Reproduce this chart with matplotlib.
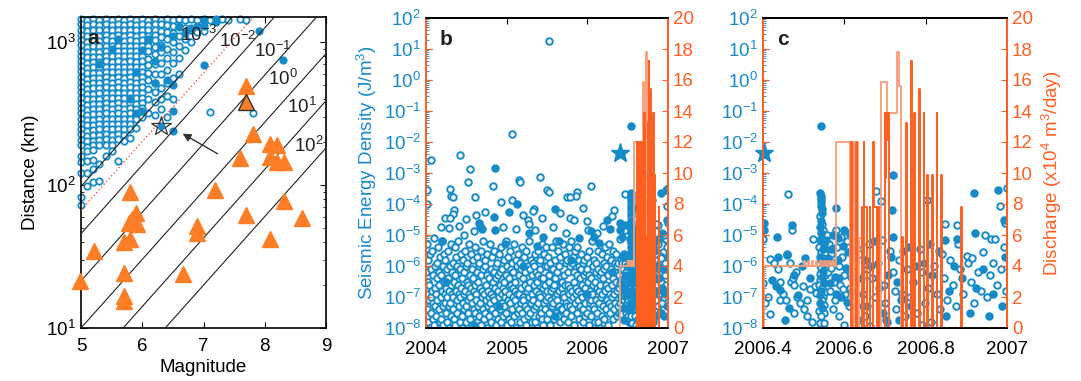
import numpy as np
import matplotlib
matplotlib.use('Agg')
import matplotlib.pyplot as plt
from matplotlib.ticker import LogLocator, NullFormatter

plt.rcParams['font.family'] = ['Liberation Sans', 'DejaVu Sans']
plt.rcParams['mathtext.fontset'] = 'custom'
plt.rcParams['mathtext.rm'] = 'Liberation Sans'
plt.rcParams['mathtext.it'] = 'Liberation Sans:italic'
plt.rcParams['mathtext.bf'] = 'Liberation Sans:bold'
plt.rcParams['font.size'] = 13

BLUE = '#168bca'
ORANGE = '#ff5f1f'
LIGHT = '#f99c78'
TRI = '#fd7e26'
TS = 13.5   # tick label size
LS = 13.5   # axis label size

# ---------------- panel a data ----------------
a_col_mag = [5.0, 5.1, 5.2, 5.3, 5.4, 5.5, 5.6, 5.7, 5.8, 5.9, 6.0, 6.1, 6.2, 6.3,
             6.4, 6.5, 6.6, 6.7, 6.8, 6.9, 7.0, 7.1, 7.3, 7.4, 7.6, 7.7, 7.8]
a_col_dist = [
    [1450, 1330, 1220, 1120, 1030, 950, 870, 800, 740, 680, 625, 575, 530, 485, 445, 410, 375, 345, 318, 292, 268, 246, 226, 208, 192, 160, 145, 122, 82, 73],
    [1440, 1320, 1200, 1100, 1010, 930, 855, 785, 720, 660, 605, 555, 510, 470, 432, 398, 366, 336, 310, 285, 262, 240, 220, 203, 186, 172, 148, 122, 98],
    [1450, 1330, 1210, 1110, 1020, 940, 860, 790, 725, 665, 610, 560, 515, 475, 437, 402, 370, 340, 312, 287, 264, 243, 223, 205, 190, 175, 150, 130, 105],
    [1440, 1320, 1210, 1110, 1020, 935, 860, 790, 725, 665, 612, 562, 517, 476, 438, 403, 371, 341, 314, 289, 266, 245, 225, 207, 190, 140, 107],
    [1450, 1330, 1220, 1120, 1030, 945, 870, 800, 735, 675, 620, 570, 524, 482, 443, 408, 375, 345, 317, 292, 268, 247, 227, 209, 192, 160],
    [1440, 1320, 1210, 1110, 1020, 940, 865, 795, 730, 670, 615, 565, 520, 478, 440, 405, 372, 342, 315, 290, 267, 245, 225, 207, 190, 172],
    [1450, 1330, 1220, 1120, 1030, 945, 870, 800, 735, 675, 620, 570, 524, 482, 443, 408, 375, 345, 317, 292, 268, 247, 227, 209, 147],
    [1440, 1320, 1210, 1110, 1020, 940, 865, 795, 730, 670, 615, 565, 520, 478, 440, 405, 372, 342, 315, 290, 267, 245, 225, 205],
    [1450, 1330, 1220, 1120, 1030, 945, 870, 800, 735, 675, 620, 570, 524, 482, 443, 408, 375, 345, 317, 292, 268, 247, 212],
    [1440, 1320, 1210, 1110, 1020, 940, 865, 795, 730, 670, 615, 565, 520, 478, 440, 405, 372, 342, 315, 290, 250],
    [1450, 1330, 1220, 1120, 1030, 945, 870, 800, 735, 675, 620, 570, 524, 482, 443, 408, 375, 345, 300],
    [1440, 1320, 1210, 1110, 1020, 940, 865, 760, 690, 610, 540, 470, 400, 320],
    [1450, 1330, 1220, 1120, 1030, 920, 820, 700, 600, 520, 450, 380, 310],
    [1440, 1330, 1200, 1080, 960, 850, 720, 600, 480, 400, 340],
    [1450, 1320, 1180, 1050, 900, 780, 640, 520, 420, 300],
    [1440, 1300, 1150, 1000, 860, 720, 560, 400],
    [1450, 1280, 1100, 940, 780, 600],
    [1440, 1250, 1050, 880],
    [1450, 1220, 1000],
    [1430, 1180],
    [1450, 1200],
    [1440, 325],
    [1450],
    [1420],
    [1450],
    [1440],
    [322],
]
a_fill_mag = [6.3, 6.5, 7.0, 8.3, 7.9, 6.2, 6.2, 6.5, 6.4, 6.0, 5.9, 6.3, 6.1, 6.6, 6.5,
              6.8, 7.0, 7.2, 7.0, 7.2, 6.0, 6.5, 5.9, 6.9, 5.6, 5.5, 5.3, 5.8, 6.7]
a_fill_dist = [260, 240, 690, 745, 1200, 515, 740, 500, 540, 880, 620, 920, 1050, 1300, 1100,
               1250, 1400, 1380, 1300, 1450, 330, 330, 320, 1300, 1050, 900, 700, 400, 1150]
tri_mag = [7.7, 7.8, 8.09, 8.2, 7.59, 8.08, 8.2, 8.32, 5.8, 7.19, 8.32, 5.9, 5.83, 5.78, 5.91,
           7.7, 8.6, 6.89, 6.9, 5.8, 5.7, 8.09, 5.21, 5.7, 6.67, 4.99, 5.7, 5.7]
tri_dist = [490, 228, 194, 190, 155, 158, 144, 146, 89, 92, 77, 64, 57.5, 54, 53,
            62, 59, 52, 46, 42, 40, 41.7, 34.6, 24.3, 23.7, 21.2, 16.7, 15.4]
tri_edge_mag, tri_edge_dist = [7.7], [380]
star_a_mag, star_a_dist = 6.3, 260
energy_levels = [-3, -2, -1, 0, 1, 2]
energy_labels = ['10$^{-3}$', '10$^{-2}$', '10$^{-1}$', '10$^{0}$', '10$^{1}$', '10$^{2}$']
label_mag = [6.62, 7.25, 7.82, 8.06, 8.36, 8.47]
label_dist = [1115, 1024, 870, 550, 350, 188]
threshold_level = -2.5

# ---------------- panel b data (2004 - 2006.4), days since 2004-01-01 ----------------
b_day = [
    1, 3, 4, 6, 8, 10, 11, 13, 15, 17, 19, 21,
    23, 24, 26, 28, 30, 32, 33, 35, 37, 39, 41, 43,
    45, 46, 48, 50, 52, 54, 55, 57, 59, 61, 62, 64,
    66, 68, 70, 71, 73, 75, 77, 79, 80, 82, 84, 86,
    88, 89, 91, 93, 95, 97, 98, 100, 102, 104, 106, 108,
    110, 111, 113, 115, 117, 119, 120, 122, 124, 126, 128, 130,
    132, 133, 135, 137, 139, 141, 142, 144, 146, 148, 150, 152,
    154, 155, 157, 159, 161, 163, 164, 166, 168, 170, 172, 174,
    176, 177, 179, 181, 183, 185, 186, 188, 190, 192, 194, 196,
    198, 199, 201, 203, 205, 207, 208, 210, 212, 214, 216, 218,
    220, 221, 223, 225, 227, 229, 230, 232, 234, 236, 238, 240,
    242, 243, 245, 247, 249, 251, 252, 254, 256, 258, 260, 262,
    264, 265, 267, 269, 271, 273, 274, 276, 278, 280, 282, 284,
    286, 287, 289, 291, 293, 295, 296, 298, 300, 302, 304, 306,
    308, 309, 311, 313, 315, 317, 318, 320, 322, 324, 326, 328,
    330, 331, 333, 335, 337, 339, 340, 342, 344, 346, 348, 350,
    352, 353, 355, 357, 359, 361, 362, 364, 366, 368, 370, 372,
    374, 375, 377, 379, 381, 383, 384, 386, 388, 390, 392, 394,
    396, 397, 399, 401, 403, 405, 406, 408, 410, 412, 414, 416,
    418, 419, 421, 423, 425, 427, 428, 430, 432, 434, 436, 438,
    440, 441, 443, 445, 447, 449, 450, 452, 454, 456, 458, 460,
    462, 463, 465, 467, 469, 471, 472, 474, 476, 478, 480, 482,
    484, 485, 487, 489, 491, 493, 494, 496, 498, 500, 502, 504,
    506, 507, 509, 511, 513, 515, 516, 518, 520, 522, 524, 526,
    528, 529, 531, 533, 535, 537, 538, 540, 542, 544, 546, 548,
    550, 551, 553, 555, 557, 559, 560, 562, 564, 566, 568, 570,
    572, 573, 575, 577, 579, 581, 582, 584, 586, 588, 590, 592,
    594, 595, 597, 599, 601, 603, 604, 606, 608, 610, 612, 614,
    616, 617, 619, 621, 623, 625, 626, 628, 630, 632, 634, 636,
    638, 639, 641, 643, 645, 647, 648, 650, 652, 654, 656, 658,
    660, 661, 663, 665, 667, 669, 670, 672, 674, 676, 678, 680,
    682, 683, 685, 687, 689, 691, 692, 694, 696, 698, 700, 702,
    704, 705, 707, 709, 711, 713, 714, 716, 718, 720, 722, 724,
    726, 727, 729, 731, 733, 735, 736, 738, 740, 742, 744, 746,
    748, 749, 751, 753, 755, 757, 758, 760, 762, 764, 766, 768,
    770, 771, 773, 775, 777, 779, 780, 782, 784, 786, 788, 790,
    792, 793, 795, 797, 799, 801, 802, 804, 806, 808, 810, 812,
    814, 815, 817, 819, 821, 823, 824, 826, 828, 830, 832, 834,
    836, 837, 839, 841, 843, 845, 846, 848, 850, 852, 854, 856,
    858, 859, 861, 863, 865, 867, 868, 870, 872, 874, 876,
]
b_loge = [
    -6.2, -7.4, -5.3, -6.9, -7.8, -6.5, -5.8, -7.1, -6.6, -8.0, -5.6, -7.0,
    -7.5, -6.1, -6.8, -5.5, -7.7, -7.2, -6.3, -5.1, -7.9, -6.7, -7.3, -6.0,
    -6.9, -7.6, -5.9, -6.4, -7.1, -8.1, -5.4, -6.6, -7.4, -6.2, -7.8, -5.7,
    -7.0, -6.3, -7.7, -5.2, -6.8, -7.3, -6.0, -7.9, -6.5, -5.6, -7.2, -6.9,
    -5.8, -7.5, -6.7, -7.0, -6.1, -7.8, -5.5, -6.4, -7.3, -6.8, -8.0, -6.0,
    -7.2, -6.6, -5.3, -7.6, -6.9, -6.2, -7.4, -5.9, -7.0, -6.5, -7.7, -5.4,
    -6.3, -7.9, -6.8, -5.7, -7.1, -6.0, -7.5, -6.6, -5.2, -7.3, -6.9, -7.8,
    -6.1, -7.0, -5.6, -6.7, -7.6, -6.4, -8.0, -5.8, -7.2, -6.9, -6.2, -7.4,
    -5.5, -6.8, -7.3, -6.0, -7.8, -6.5, -5.9, -7.1, -6.6, -7.5, -5.3, -6.9,
    -7.0, -6.3, -7.7, -5.6, -6.7, -7.2, -6.1, -7.9, -5.8, -6.4, -7.4, -6.8,
    -6.6, -7.5, -5.4, -6.9, -7.1, -6.2, -7.8, -5.7, -6.5, -7.3, -6.0, -7.6,
    -5.9, -7.2, -6.7, -7.9, -6.3, -5.5, -7.0, -6.8, -7.4, -6.1, -5.2, -7.7,
    -6.9, -6.0, -7.5, -5.8, -7.1, -6.6, -8.0, -6.3, -5.6, -7.3, -6.8, -7.0,
    -7.6, -6.4, -5.3, -7.2, -6.9, -7.8, -6.1, -5.7, -7.4, -6.5, -7.0, -6.2,
    -5.5, -7.1, -6.7, -7.5, -6.0, -7.9, -6.4, -5.9, -7.3, -6.8, -7.7, -6.3,
    -7.0, -5.6, -6.6, -7.4, -6.2, -7.8, -5.4, -6.9, -7.2, -6.1, -7.6, -6.7,
    -6.5, -7.3, -5.8, -7.0, -6.8, -5.2, -7.5, -6.3, -7.9, -6.0, -7.1, -5.7,
    -7.7, -6.4, -6.9, -5.5, -7.2, -6.6, -7.8, -6.1, -5.9, -7.4, -6.7, -7.0,
    -6.2, -7.6, -5.3, -6.8, -7.1, -6.5, -8.0, -5.8, -7.3, -6.9, -6.0, -7.5,
    -5.6, -6.9, -7.4, -6.3, -7.8, -5.9, -6.7, -7.2, -6.1, -7.5, -5.4, -7.0,
    -7.1, -6.4, -7.7, -5.7, -6.6, -7.3, -6.2, -7.9, -5.5, -6.8, -7.4, -6.0,
    -6.7, -7.6, -5.2, -7.0, -6.5, -6.1, -7.5, -5.8, -7.2, -6.9, -7.8, -6.3,
    -5.9, -7.1, -6.6, -7.4, -6.0, -7.8, -5.6, -6.8, -7.3, -6.2, -8.0, -6.5,
    -7.2, -6.3, -5.5, -7.6, -6.9, -6.1, -7.0, -5.8, -7.5, -6.4, -7.7, -5.3,
    -6.4, -7.9, -6.7, -5.6, -7.2, -6.0, -7.4, -6.6, -5.4, -7.1, -6.8, -7.7,
    -6.0, -7.0, -5.7, -6.5, -7.5, -6.3, -7.9, -5.9, -7.1, -6.8, -6.1, -7.3,
    -5.4, -6.7, -7.2, -6.1, -7.7, -6.6, -5.8, -7.0, -6.4, -7.5, -5.2, -6.9,
    -7.1, -6.2, -7.6, -5.5, -6.8, -7.3, -6.0, -7.8, -5.7, -6.5, -7.4, -6.7,
    -6.5, -7.4, -5.3, -6.9, -7.0, -6.3, -7.7, -5.6, -6.6, -7.2, -5.9, -7.5,
    -5.8, -7.3, -6.6, -7.8, -6.2, -5.4, -6.9, -6.7, -7.3, -6.0, -5.2, -7.6,
    -6.8, -5.9, -7.4, -5.7, -7.0, -6.5, -7.9, -6.2, -5.5, -7.2, -6.7, -6.9,
    -7.5, -6.3, -5.4, -7.1, -6.8, -7.7, -6.0, -5.8, -7.3, -6.4, -6.9, -6.1,
    -5.6, -7.0, -6.6, -7.4, -5.9, -7.8, -6.3, -5.8, -7.2, -6.7, -7.6, -6.2,
    -6.9, -6.1, -7.5, -5.7, -7.0, -6.5, -7.9, -6.3, -5.5, -7.2, -6.8, -7.1,
    -7.6, -6.4, -5.2, -6.9, -6.6, -7.3, -6.0, -5.8, -7.4, -6.5, -7.8, -6.2,
    -5.9, -7.1, -6.7, -7.5, -6.1, -7.8, -5.5, -6.8, -7.2, -6.3, -8.0, -6.6,
    -7.0, -6.2, -5.6, -7.6, -6.9, -6.4, -7.3, -5.9, -7.7, -6.1, -6.8, -5.4,
    -6.6, -7.4, -6.0, -5.7, -7.1, -6.7, -7.9, -6.3, -5.3, -7.2, -6.9, -7.5,
    -6.1, -5.8, -7.3, -6.6, -7.0, -5.5, -7.7, -6.4, -6.9, -7.4, -6.2, -5.9,
    -7.2, -6.5, -5.6, -7.6, -6.8, -6.0, -7.3, -5.9, -6.7, -7.5, -6.3,
]
b_sparse_open_t = [2005.528, 2005.062, 2004.058, 2004.42, 2004.55, 2004.52, 2004.83, 2005.15, 2005.17,
                   2005.41, 2006.04, 2005.87, 2005.86, 2005.50, 2005.52, 2004.01, 2004.01, 2004.30,
                   2004.31, 2004.34, 2004.61, 2005.07, 2005.34, 2005.33, 2005.75, 2005.79, 2005.95,
                   2006.33, 2004.35, 2004.34, 2004.24, 2004.30, 2004.50, 2004.62, 2004.73, 2004.93,
                   2005.20, 2005.27, 2005.28, 2005.35, 2005.44, 2005.57, 2005.66, 2005.79, 2005.84,
                   2005.99, 2006.19, 2004.18, 2004.29, 2004.41, 2004.47, 2004.59, 2006.01, 2005.11,
                   2004.95, 2005.74, 2006.12, 2006.30]
b_sparse_open_e = [1.25, -1.74, -2.57, -2.43, -2.87, -3.30, -3.43, -3.22, -3.30,
                   -3.13, -3.43, -3.60, -3.75, -3.56, -3.60, -3.54, -4.0, -3.50,
                   -3.75, -3.77, -3.77, -3.86, -4.16, -4.24, -3.77, -3.77, -4.13,
                   -4.18, -4.20, -4.33, -4.45, -4.45, -4.47, -4.35, -4.26, -3.95,
                   -4.34, -4.50, -4.63, -4.83, -4.45, -4.74, -4.29, -4.45, -4.50,
                   -4.56, -4.72, -4.74, -4.77, -4.72, -4.99, -4.88, -4.83, -4.8,
                   -4.75, -4.92, -4.95, -4.4]
b_sparse_fill_t = [2004.855, 2005.13, 2005.60, 2004.66, 2004.67, 2004.84, 2004.86, 2005.03, 2005.28,
                   2004.70, 2006.04, 2006.08, 2006.25, 2006.28, 2005.45, 2005.90, 2004.20, 2005.65,
                   2004.98, 2006.15, 2005.38, 2004.25, 2004.9, 2005.2, 2005.6, 2006.0, 2006.3,
                   2004.6, 2005.8]
b_sparse_fill_e = [-2.84, -3.99, -4.16, -4.6, -4.7, -4.43, -4.83, -4.26, -4.93,
                   -4.80, -4.88, -5.08, -4.50, -4.80, -5.05, -5.1, -5.2, -5.2,
                   -5.3, -5.25, -5.35, -6.5, -7.3, -6.0, -7.6, -6.9, -6.2,
                   -7.9, -5.8]

# ---------------- panel c data (2006.4 - 2007), also shown in b ----------------
c_open_t = [
    2006.401, 2006.401, 2006.404, 2006.416, 2006.428, 2006.412, 2006.418, 2006.441, 2006.443, 2006.457,
    2006.462, 2006.460, 2006.466, 2006.469, 2006.473, 2006.477, 2006.477, 2006.472, 2006.484, 2006.490,
    2006.498, 2006.507, 2006.509, 2006.515, 2006.523, 2006.527, 2006.531, 2006.437, 2006.450, 2006.480,
    2006.500, 2006.520,
    2006.541, 2006.545, 2006.547, 2006.549, 2006.545, 2006.538, 2006.543, 2006.553, 2006.547, 2006.537,
    2006.542, 2006.539, 2006.553, 2006.541, 2006.537, 2006.546, 2006.552, 2006.548, 2006.544, 2006.551,
    2006.538, 2006.549, 2006.543, 2006.540, 2006.550,
    2006.558, 2006.562, 2006.566, 2006.570, 2006.560, 2006.574, 2006.564, 2006.578, 2006.582, 2006.586,
    2006.590, 2006.594, 2006.598, 2006.602, 2006.606, 2006.610, 2006.614, 2006.618, 2006.580, 2006.572,
    2006.588, 2006.600, 2006.612, 2006.592, 2006.568, 2006.596,
    2006.679, 2006.690, 2006.692, 2006.625, 2006.632, 2006.638, 2006.645, 2006.652, 2006.660, 2006.668,
    2006.675, 2006.683, 2006.698, 2006.705, 2006.712, 2006.720, 2006.728, 2006.735, 2006.742, 2006.748,
    2006.630, 2006.655, 2006.700, 2006.725, 2006.663, 2006.640,
    2006.803, 2007.000, 2006.982, 2006.785, 2006.878, 2006.942, 2006.901, 2006.960, 2006.970, 2006.848,
    2006.755, 2006.762, 2006.770, 2006.778, 2006.790, 2006.798, 2006.806, 2006.812, 2006.820, 2006.828,
    2006.836, 2006.845, 2006.852, 2006.860, 2006.868, 2006.875, 2006.884, 2006.892, 2006.905, 2006.912,
    2006.920, 2006.928, 2006.935, 2006.950, 2006.958, 2006.966, 2006.975, 2006.985, 2006.992, 2006.998,
    2006.915, 2006.945, 2006.880, 2006.996, 2006.790, 2006.840,
]
c_open_e = [
    -5.13, -6.55, -7.2, -5.77, -5.9, -7.0, -7.55, -7.1, -6.5, -7.1,
    -3.67, -5.6, -5.9, -6.5, -6.4, -6.6, -7.5, -4.83, -7.0, -7.2,
    -6.65, -7.6, -7.1, -6.75, -5.13, -6.65, -6.87, -6.1, -6.9, -6.2,
    -7.4, -7.8,
    -4.4, -4.65, -4.85, -5.05, -5.25, -5.4, -5.55, -5.6, -5.75, -5.95,
    -6.05, -6.25, -6.3, -6.45, -6.6, -6.7, -6.85, -7.0, -7.1, -7.25,
    -7.45, -7.5, -7.6, -7.85, -7.83,
    -5.0, -5.3, -5.6, -5.9, -6.2, -6.5, -6.8, -7.1, -5.4, -6.0,
    -6.6, -5.7, -6.3, -6.9, -5.2, -6.1, -6.7, -5.5, -4.85, -7.4,
    -7.6, -7.9, -7.3, -5.05, -6.05, -6.75,
    -3.57, -3.91, -5.17, -6.2, -7.3, -5.6, -6.9, -7.6, -5.3, -6.4,
    -7.0, -5.9, -6.6, -7.8, -5.5, -6.2, -7.4, -5.8, -6.9, -7.6,
    -7.7, -6.1, -7.2, -6.8, -7.95, -7.95,
    -3.86, -3.48, -4.08, -5.45, -4.67, -5.55, -5.69, -5.13, -5.13, -4.63,
    -6.1, -7.0, -6.5, -7.5, -6.2, -7.2, -6.7, -7.8, -6.0, -6.9,
    -7.4, -6.4, -7.1, -5.8, -6.6, -7.3, -6.1, -6.9, -5.9, -6.5,
    -7.2, -6.2, -6.8, -7.0, -6.3, -5.9, -6.6, -6.1, -5.4, -6.8,
    -5.75, -5.0, -5.3, -4.6, -7.9, -5.6,
]
c_fill_t = [
    2006.403, 2006.403, 2006.435, 2006.437, 2006.458, 2006.441, 2006.453, 2006.471, 2006.476, 2006.503,
    2006.485, 2006.421, 2006.431, 2006.465, 2006.495, 2006.515,
    2006.542, 2006.541, 2006.542, 2006.542, 2006.543, 2006.542, 2006.544, 2006.546, 2006.543, 2006.541,
    2006.543, 2006.540, 2006.551, 2006.548, 2006.540, 2006.544, 2006.551, 2006.548, 2006.545, 2006.550,
    2006.543, 2006.539, 2006.541, 2006.546,
    2006.579, 2006.600, 2006.556, 2006.560, 2006.568, 2006.576, 2006.584, 2006.588, 2006.596, 2006.604,
    2006.608, 2006.616, 2006.564, 2006.572, 2006.592, 2006.580, 2006.612, 2006.620, 2006.606, 2006.585,
    2006.720, 2006.716, 2006.720, 2006.628, 2006.641, 2006.650, 2006.665, 2006.672, 2006.686, 2006.694,
    2006.708, 2006.715, 2006.730, 2006.740, 2006.745, 2006.656, 2006.702, 2006.735,
    2006.979, 2006.993, 2006.918, 2006.878, 2006.922, 2006.848, 2006.760, 2006.775, 2006.795, 2006.815,
    2006.832, 2006.858, 2006.870, 2006.890, 2006.908, 2006.925, 2006.940, 2006.955, 2006.965, 2006.988,
    2006.995, 2006.850, 2006.810, 2006.765,
]
c_fill_e = [
    -4.61, -4.83, -5.06, -5.7, -5.63, -6.76, -7.73, -4.67, -6.28, -5.74,
    -6.92, -6.44, -6.66, -7.35, -6.0, -6.4,
    -1.49, -3.65, -3.75, -3.85, -3.95, -4.05, -4.15, -4.3, -4.55, -4.75,
    -4.95, -5.15, -5.3, -5.45, -5.7, -5.85, -5.95, -6.15, -6.35, -6.55,
    -6.8, -6.95, -7.2, -7.35,
    -4.13, -4.83, -5.15, -5.75, -5.45, -6.35, -5.8, -6.4, -5.35, -6.05,
    -5.55, -6.35, -6.55, -5.0, -7.0, -6.9, -4.95, -6.8, -7.15, -5.1,
    -3.08, -4.18, -5.06, -5.4, -6.4, -5.8, -6.0, -5.2, -6.7, -7.5,
    -6.3, -5.7, -6.5, -7.1, -5.5, -7.3, -7.75, -7.75,
    -3.54, -4.50, -3.65, -5.13, -4.94, -5.15, -5.4, -6.0, -5.9, -6.3,
    -5.5, -6.8, -6.0, -6.4, -7.5, -6.7, -6.1, -7.6, -6.9, -7.3,
    -5.7, -7.6, -5.3, -7.3,
]
star_t, star_loge = 2006.402, -2.37

# discharge (x10^4 m^3/day), step values holding until next time
light_t = [2006.400, 2006.402, 2006.500, 2006.504, 2006.510, 2006.514, 2006.520, 2006.524, 2006.530,
           2006.534, 2006.540, 2006.544, 2006.550, 2006.554, 2006.560, 2006.564, 2006.570, 2006.574,
           2006.580, 2006.614, 2006.621, 2006.623, 2006.631, 2006.633, 2006.637, 2006.646, 2006.689,
           2006.704, 2006.730, 2006.735, 2006.739, 2007.000]
light_q = [0, 4.0, 4.3, 4.0, 4.3, 4.0, 4.3, 4.0, 4.3,
           4.0, 4.3, 4.0, 4.3, 4.0, 4.3, 4.0, 4.3, 4.0,
           12.0, 1.8, 12.0, 0, 12.0, 0, 5.8, 0, 15.9,
           13.9, 17.8, 15.6, 0, 0]
dark_t = [2006.612, 2006.617, 2006.619, 2006.628, 2006.630, 2006.643, 2006.647, 2006.648, 2006.649,
          2006.655, 2006.662, 2006.664, 2006.671, 2006.673, 2006.680, 2006.683, 2006.686, 2006.700,
          2006.701, 2006.702, 2006.703, 2006.704, 2006.705, 2006.706, 2006.707, 2006.708, 2006.710,
          2006.711, 2006.743, 2006.745, 2006.752, 2006.754, 2006.764, 2006.766, 2006.772, 2006.774,
          2006.783, 2006.785, 2006.795, 2006.797, 2006.803, 2006.805, 2006.816, 2006.818, 2006.827,
          2006.829, 2006.838, 2006.840, 2006.887, 2006.889]
dark_q = [0, 12.0, 0, 12.0, 0, 7.8, 0, 12.0, 7.8,
          0, 7.8, 0, 12.0, 7.8, 0, 7.8, 0, 13.9,
          9.7, 13.2, 12.2, 13.9, 12.4, 13.6, 12.1, 13.9, 12.6,
          0, 5.9, 0, 13.2, 0, 17.2, 0, 13.9, 0,
          15.4, 0, 13.9, 0, 9.9, 0, 9.9, 0, 13.9,
          0, 9.9, 0, 7.8, 0]

W, H = 1081, 381
fig = plt.figure(figsize=(W / 100, H / 100), dpi=100)


def box(l, r, t=17, b=328):
    return [l / W, (H - b) / H, (r - l) / W, (b - t) / H]


def log_ticks(ax):
    ax.yaxis.set_major_locator(LogLocator(base=10, numticks=20))
    ax.yaxis.set_minor_locator(LogLocator(base=10, subs=np.arange(2, 10) * 1.0, numticks=200))
    ax.yaxis.set_minor_formatter(NullFormatter())


# ---------------- panel a ----------------
ax = fig.add_axes(box(81, 326))
mags = np.concatenate([[m] * len(d) for m, d in zip(a_col_mag, a_col_dist)])
dists = np.concatenate(a_col_dist)
ax.plot(mags, dists, 'o', ms=4.6, mfc='white', mec=BLUE, mew=1.3, zorder=2, clip_on=False)
ax.plot(a_fill_mag, a_fill_dist, 'o', ms=4.6, mfc=BLUE, mec=BLUE, mew=1.3, zorder=3, clip_on=False)
mm = np.array([4.8, 9.2])
for lev in energy_levels:
    ax.plot(mm, 10 ** (0.48 * mm - 0.33 * lev - 1.4), color='#222222', lw=0.8, zorder=4)
ax.plot(mm, 10 ** (0.48 * mm - 0.33 * threshold_level - 1.4), color='#ff3030', lw=0.9,
        ls=(0, (1, 2)), zorder=4)
ax.plot(tri_mag, tri_dist, '^', ms=11, mfc=TRI, mec=TRI, zorder=5, clip_on=False)
ax.plot(tri_edge_mag, tri_edge_dist, '^', ms=11, mfc=TRI, mec='#333333', mew=1.0, zorder=5)
ax.plot(star_a_mag, star_a_dist, '*', ms=15, mfc='none', mec='#333333', mew=0.9, zorder=6)
ax.annotate('', xy=(6.62, 234), xytext=(7.27, 162),
            arrowprops=dict(arrowstyle='-|>', color='#333333', lw=1, mutation_scale=12))
for txt, m, d in zip(energy_labels, label_mag, label_dist):
    ax.text(m, d, txt, fontsize=13.5, color='#222222', ha='left', va='center', zorder=7)
ax.set_yscale('log')
ax.set_xlim(5, 9)
ax.set_ylim(10, 1500)
log_ticks(ax)
ax.set_xticks([5, 6, 7, 8, 9])
ax.tick_params(which='both', direction='in', top=True, right=True, labelsize=TS)
ax.tick_params(axis='x', pad=7)
ax.tick_params(which='major', length=4)
ax.tick_params(which='minor', length=2)
ax.set_xlabel('Magnitude', fontsize=LS, labelpad=3)
ax.set_ylabel('Distance (km)', fontsize=LS, labelpad=5)
ax.text(0.025, 0.913, 'a', transform=ax.transAxes, fontsize=15, fontweight='bold',
        color='#222222', zorder=8)
for s in ax.spines.values():
    s.set_linewidth(1.2)


def energy_panel(l, r, xlim, xticks, xlabels, letter, seis_t, seis_e, fill_t, fill_e, left_label, right_label):
    ax = fig.add_axes(box(l, r, 18, 328))
    ax.plot(seis_t, 10.0 ** np.asarray(seis_e), 'o', ms=4.7, mfc='white', mec=BLUE, mew=1.4)
    ax.plot(fill_t, 10.0 ** np.asarray(fill_e), 'o', ms=4.7, mfc=BLUE, mec=BLUE, mew=1.4)
    ax.plot(star_t, 10 ** star_loge, '*', ms=14, color=BLUE, clip_on=False, zorder=5)
    ax.set_yscale('log')
    ax.set_ylim(1e-8, 1e2)
    ax.set_xlim(*xlim)
    log_ticks(ax)
    ax.set_xticks(xticks)
    ax.set_xticklabels(xlabels)
    ax.tick_params(axis='x', direction='in', top=True, length=4, labelsize=TS, pad=9)
    ax.tick_params(axis='y', which='both', direction='in', right=True, colors=BLUE, labelsize=TS)
    ax.tick_params(axis='y', which='major', length=4)
    ax.tick_params(axis='y', which='minor', length=2)
    if left_label:
        ax.set_ylabel(left_label, color=BLUE, fontsize=LS, labelpad=3)
    ax.text(0.058, 0.913, letter, transform=ax.transAxes, fontsize=15, fontweight='bold',
            color='#222222')

    ax2 = ax.twinx()
    ax2.step(light_t, light_q, where='post', color=LIGHT, lw=1.3)
    ax2.step(dark_t, dark_q, where='post', color=ORANGE, lw=1.4)
    ax2.set_ylim(0, 20)
    ax2.set_xlim(*xlim)
    ax2.set_yticks(range(0, 21, 2))
    ax2.tick_params(axis='y', direction='in', left=True, right=True, colors=ORANGE,
                    length=4, labelsize=TS)
    if right_label:
        ax2.set_ylabel(right_label, color=ORANGE, fontsize=LS, labelpad=5)
    for a in (ax, ax2):
        a.spines['left'].set_color(ORANGE)
        a.spines['right'].set_color(ORANGE)
        for s in a.spines.values():
            s.set_linewidth(1.3)
    return ax, ax2


b_t = 2004 + np.asarray(b_day) / 365.25
b_open_t = np.concatenate([b_t, b_sparse_open_t, c_open_t])
b_open_e = np.concatenate([b_loge, b_sparse_open_e, c_open_e])
b_fill_t = np.concatenate([b_sparse_fill_t, c_fill_t])
b_fill_e = np.concatenate([b_sparse_fill_e, c_fill_e])

energy_panel(426, 668, (2004, 2007), [2004, 2005, 2006, 2007], ['2004', '2005', '2006', '2007'],
             'b', b_open_t, b_open_e, b_fill_t, b_fill_e,
             'Seismic Energy Density (J/m$^3$)', None)
energy_panel(763, 1007, (2006.4, 2007), [2006.4, 2006.6, 2006.8, 2007],
             ['2006.4', '2006.6', '2006.8', '2007'],
             'c', c_open_t, c_open_e, c_fill_t, c_fill_e,
             None, 'Discharge (x10$^4$ m$^3$/day)')

fig.savefig('out.png', dpi=100)
